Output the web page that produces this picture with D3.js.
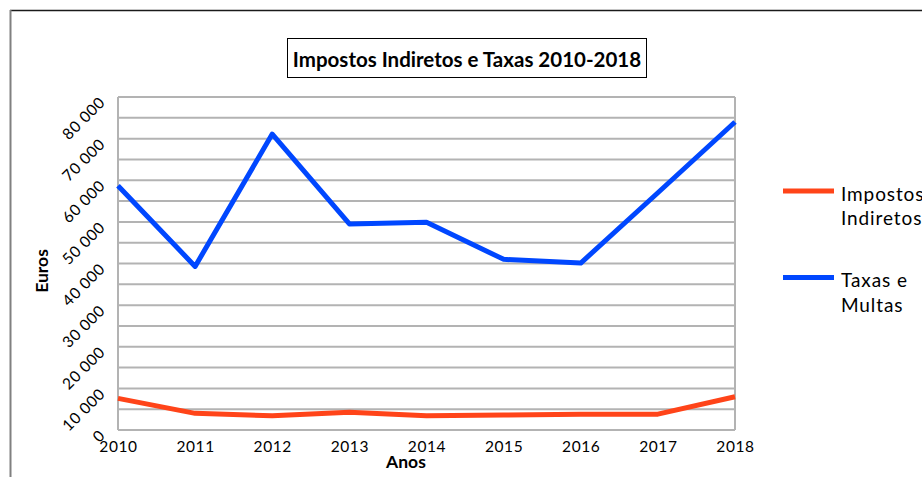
<!DOCTYPE html>
<html>
<head>
<meta charset="utf-8">
<script src="https://cdn.jsdelivr.net/npm/d3@7"></script>
<style>
  body { margin: 0; background: #fff; }
  text { font-family: Lato, "Open Sans", sans-serif; fill: #000; }
</style>
</head>
<body>
<div id="chart"></div>
<script>
const years = [2010, 2011, 2012, 2013, 2014, 2015, 2016, 2017, 2018];
const impostosIndiretos = [7600, 4000, 3400, 4250, 3450, 3600, 3800, 3800, 8000];
const taxasMultas = [58700, 39300, 71100, 49500, 49900, 41000, 40100, 57000, 74000];
const seriesNames = ['Impostos\nIndiretos', 'Taxas e\nMultas'];
const seriesColors = ['#ff4419', '#0047ff'];
const yTickLabels = [0, 10000, 20000, 30000, 40000, 50000, 60000, 70000, 80000];

(function(){
    const W = 922, H = 477;
    const margin = {
        top: 97,
        right: W - 735,
        bottom: H - 430,
        left: 118
    };
    const width = W - margin.left - margin.right;
    const height = H - margin.top - margin.bottom;

    const root = d3.select('#chart')
        .append('svg')
            .attr('width', W)
            .attr('height', H);

    // outer frame (only top & left edges visible)
    root.append('line')
        .attr('x1', 10).attr('y1', 10.5).attr('x2', W).attr('y2', 10.5)
        .style('stroke', '#1a1a1a').style('stroke-width', 1.5);
    root.append('line')
        .attr('x1', 10.5).attr('y1', 10).attr('x2', 10.5).attr('y2', H)
        .style('stroke', '#808080').style('stroke-width', 2);

    // title
    root.append('rect')
        .attr('x', 287.5).attr('y', 38.5)
        .attr('width', 359).attr('height', 39)
        .style('fill', '#fff').style('stroke', '#000').style('stroke-width', 1);
    root.append('text')
        .attr('x', 467).attr('y', 66.5)
        .attr('text-anchor', 'middle')
        .style('font-size', '20.5px')
        .style('font-weight', 'bold')
        .text('Impostos Indiretos e Taxas 2010-2018');

    const svg = root.append('g')
        .attr('transform', `translate(${margin.left}, ${margin.top})`);

    const xScale = d3.scalePoint()
        .domain(years)
        .range([0, width]);

    const yScale = d3.scaleLinear()
        .domain([0, 80000])
        .range([height, 0]);

    // horizontal gridlines every 5000
    svg.append('g')
        .selectAll('line')
        .data(d3.range(0, 80001, 5000))
        .enter()
        .append('line')
            .attr('x1', 0).attr('x2', width)
            .attr('y1', d => yScale(d)).attr('y2', d => yScale(d))
            .style('stroke', '#b3b3b3')
            .style('stroke-width', 2);

    // left and right borders
    [0, width].forEach(x => {
        svg.append('line')
            .attr('x1', x).attr('x2', x)
            .attr('y1', 0).attr('y2', height)
            .style('stroke', '#b3b3b3')
            .style('stroke-width', 2);
    });

    // x axis labels
    const xAxis = svg.append('g')
        .attr('transform', `translate(0, ${height})`)
        .call(d3.axisBottom(xScale).tickSize(0).tickPadding(11));
    xAxis.select('.domain').remove();
    xAxis.selectAll('text')
        .style('font-size', '15.5px')
        .style('letter-spacing', '0.6px')
        .style('font-family', 'Lato, sans-serif');

    // y axis labels, rotated
    const fmt = d => d3.format(',')(d).replace(/,/g, ' ');
    const yAxis = svg.append('g')
        .call(d3.axisLeft(yScale).tickValues(yTickLabels).tickSize(0).tickFormat(fmt));
    yAxis.select('.domain').remove();
    yAxis.selectAll('text')
        .attr('x', null).attr('dy', null)
        .attr('text-anchor', 'end')
        .attr('transform', 'translate(-12, 6) rotate(-45)')
        .style('font-size', '15.5px')
        .style('letter-spacing', '0.6px')
        .style('font-family', 'Lato, sans-serif');

    // axis titles
    root.append('text')
        .attr('x', 406).attr('y', 468)
        .attr('text-anchor', 'middle')
        .style('font-size', '17.5px')
        .style('font-weight', 'bold')
        .text('Anos');
    root.append('text')
        .attr('transform', 'translate(48, 271) rotate(-90)')
        .attr('text-anchor', 'middle')
        .style('font-size', '17.5px')
        .style('font-weight', 'bold')
        .text('Euros');

    // lines
    const line = d3.line()
        .x((d, i) => xScale(years[i]))
        .y(d => yScale(d));

    [impostosIndiretos, taxasMultas].forEach((values, i) => {
        svg.append('path')
            .datum(values)
            .attr('d', line)
            .style('fill', 'none')
            .style('stroke', seriesColors[i])
            .style('stroke-width', 5)
            .style('stroke-linejoin', 'round');
    });

    // legend
    const legend = root.append('g');
    seriesNames.forEach((name, i) => {
        const y0 = 191 + i * 86.5;
        legend.append('line')
            .attr('x1', 783).attr('x2', 834)
            .attr('y1', y0).attr('y2', y0)
            .style('stroke', seriesColors[i])
            .style('stroke-width', 5);
        const t = legend.append('text')
            .attr('x', 841).attr('y', y0 + 9.5)
            .style('font-size', '19px')
            .style('letter-spacing', '0.9px');
        name.split('\n').forEach((part, j) => {
            t.append('tspan')
                .attr('x', 841)
                .attr('dy', j === 0 ? 0 : 24.5)
                .text(part);
        });
    });
}())
</script>
</body>
</html>
